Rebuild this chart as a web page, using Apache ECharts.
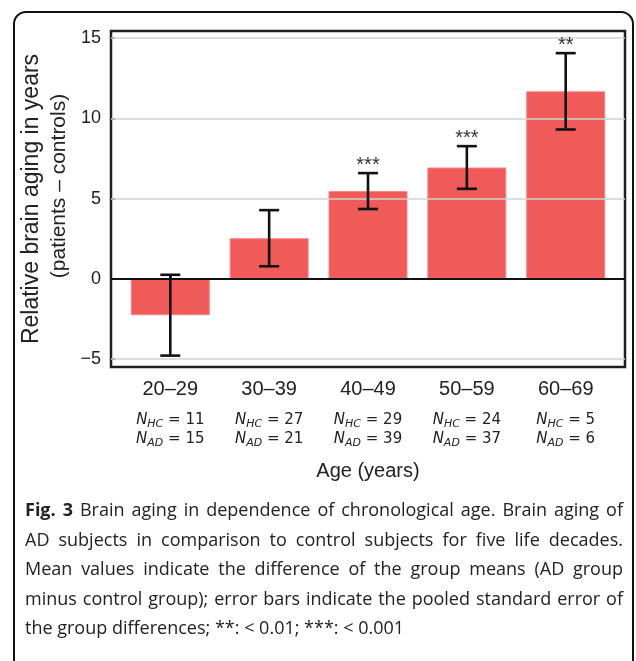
<!DOCTYPE html>
<html lang="en">
<head>
<meta charset="utf-8">
<title>Brain aging by age decade</title>
<script src="https://cdn.jsdelivr.net/npm/echarts@6.0.0/dist/echarts.min.js"></script>
<style>
  html, body { margin: 0; padding: 0; background: #fff; }
  #wrap { position: relative; width: 636px; height: 661px; overflow: hidden; }
  #chart { position: absolute; left: 0; top: 0; width: 636px; height: 661px; }
  #frame {
    position: absolute; left: 13px; top: 11px; width: 617px; height: 720px;
    border: 2.5px solid #111; border-radius: 13px; pointer-events: none;
  }
  #caption {
    position: absolute; left: 25px; top: 495px; width: 598px;
    font-family: "Open Sans", Lato, sans-serif; font-size: 18px; color: #222;
    line-height: 29.5px;
  }
  #caption div { white-space: nowrap; text-align: justify; text-align-last: justify; }
  #caption div.last { text-align-last: left; }
</style>
</head>
<body>
<div id="wrap">
  <div id="chart"></div>
  <div id="frame"></div>
  <div id="caption">
    <div><b>Fig. 3</b> Brain aging in dependence of chronological age. Brain aging of</div>
    <div>AD subjects in comparison to control subjects for five life decades.</div>
    <div>Mean values indicate the difference of the group means (AD group</div>
    <div>minus control group); error bars indicate the pooled standard error of</div>
    <div class="last">the group differences; **: &lt; 0.01; ***: &lt; 0.001</div>
  </div>
</div>
<script>
// age decades and their mean difference (AD minus control) with pooled SE
var categories = ['20–29', '30–39', '40–49', '50–59', '60–69'];
var meanDiff = [-2.27, 2.53, 5.47, 6.94, 11.69];
var stdErr = [2.52, 1.75, 1.12, 1.33, 2.38];
var significance = ['', '', '***', '***', '**'];
var nHC = [11, 27, 29, 24, 5];
var nAD = [15, 21, 39, 37, 6];
var yTicks = [-5, 0, 5, 10, 15];

var positions = categories.map(function (c, i) { return i + 1; });

var chart = echarts.init(document.getElementById('chart'), null, { renderer: 'canvas' });

var option = {
    animation: false,
    grid: {
        left: 111, top: 31, width: 514, height: 336,
        show: true, borderColor: '#1e1e1e', borderWidth: 2.5, backgroundColor: 'transparent'
    },
    xAxis: {
        type: 'value', min: 0.4, max: 5.6,
        name: 'Age (years)', nameLocation: 'middle', nameGap: 94,
        nameTextStyle: { fontFamily: 'Liberation Sans', fontSize: 20, color: '#222' },
        axisLine: { show: false },
        splitLine: { show: false },
        axisTick: { show: true, inside: true, length: 4, customValues: positions,
            lineStyle: { color: '#222', width: 1.5 } },
        axisLabel: {
            customValues: positions, margin: 1,
            formatter: function (v) {
                var i = v - 1;
                return '{c|' + categories[i] + '}\n' +
                    '{n|N}{s|HC}{v| = ' + nHC[i] + '}\n' +
                    '{n|N}{s|AD}{v| = ' + nAD[i] + '}';
            },
            rich: {
                c: { fontFamily: 'Liberation Sans', fontSize: 20, color: '#222', lineHeight: 43 },
                n: { fontFamily: 'DejaVu Sans', fontStyle: 'italic', fontSize: 15, color: '#222', lineHeight: 19 },
                s: { fontFamily: 'DejaVu Sans', fontStyle: 'italic', fontSize: 11, color: '#222',
                     lineHeight: 11, verticalAlign: 'bottom' },
                v: { fontFamily: 'DejaVu Sans', fontSize: 15, color: '#222', lineHeight: 19 }
            }
        }
    },
    yAxis: {
        type: 'value', min: -5.5, max: 15.45,
        name: '{a|Relative brain aging in years}\n{b|(patients – controls)}',
        nameLocation: 'middle', nameGap: 38, nameRotate: 90,
        nameTextStyle: {
            color: '#222',
            rich: {
                a: { fontFamily: 'Liberation Sans', fontSize: 23, lineHeight: 27, color: '#222' },
                b: { fontFamily: 'Liberation Sans', fontSize: 21, lineHeight: 27, color: '#222',
                     padding: [0, 0, 0, 26] }
            }
        },
        axisLine: { show: false },
        splitLine: { show: false },
        axisTick: { show: true, inside: true, length: 4, customValues: yTicks,
            lineStyle: { color: '#222', width: 1.5 } },
        axisLabel: {
            customValues: yTicks, margin: 10,
            fontFamily: 'Liberation Sans', fontSize: 18, color: '#222',
            formatter: function (v) { return String(v).replace('-', '−'); }
        }
    },
    series: [
        {
            // light grid lines behind the bars
            type: 'line', data: [], z: 1, silent: true,
            markLine: {
                silent: true, symbol: 'none', label: { show: false },
                lineStyle: { color: '#d2d2d2', width: 1.5, type: 'solid' },
                data: yTicks.filter(function (v) { return v !== 0; }).map(function (v) { return { yAxis: v }; })
            }
        },
        {
            type: 'bar', z: 2,
            barWidth: 79,
            itemStyle: { color: '#f05a58', borderColor: '#f58684', borderWidth: 1 },
            data: positions.map(function (x, i) { return [x, meanDiff[i]]; })
        },
        {
            type: 'custom', z: 5,
            data: positions.map(function (x, i) { return [x, meanDiff[i] - stdErr[i], meanDiff[i] + stdErr[i]]; }),
            renderItem: function (params, api) {
                var x = api.value(0);
                var lo = api.coord([x, api.value(1)]);
                var hi = api.coord([x, api.value(2)]);
                var half = 10;
                var st = { stroke: '#111', lineWidth: 2.6 };
                var children = [
                    { type: 'line', shape: { x1: lo[0], y1: lo[1], x2: hi[0], y2: hi[1] }, style: st },
                    { type: 'line', shape: { x1: lo[0] - half, y1: lo[1], x2: lo[0] + half, y2: lo[1] }, style: st },
                    { type: 'line', shape: { x1: hi[0] - half, y1: hi[1], x2: hi[0] + half, y2: hi[1] }, style: st }
                ];
                var sig = significance[params.dataIndex];
                if (sig) {
                    children.push({
                        type: 'text',
                        style: {
                            text: sig, x: hi[0], y: hi[1] - 8,
                            align: 'center', verticalAlign: 'middle',
                            font: '20px "Liberation Sans"', fill: '#333'
                        }
                    });
                }
                return { type: 'group', children: children };
            },
            markLine: {
                silent: true, symbol: 'none', label: { show: false },
                lineStyle: { color: '#111', width: 2.2, type: 'solid' },
                data: [{ yAxis: 0 }]
            }
        }
    ]
};

chart.setOption(option);
</script>
</body>
</html>
